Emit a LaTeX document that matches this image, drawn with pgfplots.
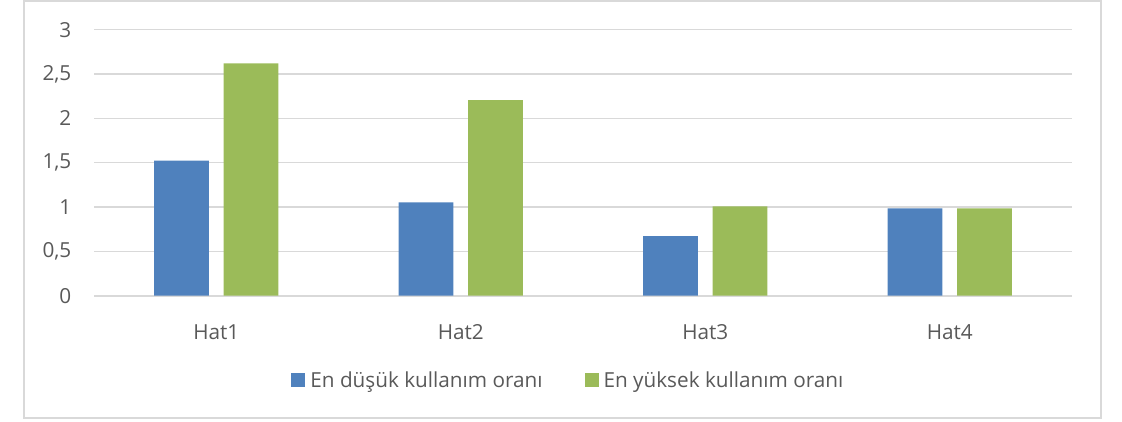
\documentclass[border=0pt]{standalone}
\usepackage{pgfplots}
\pgfplotsset{compat=1.18}
\usepackage{fontspec}
\setmainfont{Open Sans}
\definecolor{cblue}{HTML}{4F81BD}
\definecolor{cgreen}{HTML}{9BBB59}
\definecolor{gridc}{HTML}{D9D9D9}
\definecolor{txt}{HTML}{595959}
\begin{document}
\begin{tikzpicture}[x=1bp,y=1bp]
\path[use as bounding box] (0,0) rectangle (1122,-421);
\draw[gridc, line width=1.5bp] (24,-1) rectangle (1101,-418);
\begin{axis}[
  at={(94bp,-295.7bp)}, anchor=south west,
  scale only axis, width=978bp, height=266bp,
  xmin=-0.5, xmax=3.5, ymin=0, ymax=3,
  ytick={0,0.5,1,1.5,2,2.5,3},
  xtick=data, xticklabels={Hat1,Hat2,Hat3,Hat4},
  axis line style={draw=none},
  tick style={draw=none},
  ymajorgrids, grid style={gridc, line width=1.3bp},
  extra y ticks={0}, extra y tick labels={}, extra y tick style={grid style={gridc, line width=1.8bp}},
  ybar=14.7bp, bar width=54.7bp,
  /pgf/number format/use comma,
  /pgf/number format/assume math mode=true,
  ticklabel style={font=\fontsize{20.8}{24}\selectfont, text=txt},
  yticklabel style={inner sep=0pt, anchor=east, xshift=-22.5bp},
  xticklabel style={inner sep=0pt, anchor=north, yshift=-24.3bp},
  legend style={at={(0.484,-0.317)}, anchor=center, draw=none, fill=none,
    legend columns=2, font=\fontsize{20.8}{24}\selectfont, text=txt,
    nodes={inner sep=0pt},
    /tikz/every even column/.append style={column sep=42bp},
    legend cell align=left, inner sep=0pt},
  legend image code/.code={\fill[#1] (0bp,-6.7bp) rectangle (14bp,6.7bp); \path (19bp,0);},
]
\addplot[fill=cblue, draw=none] coordinates {(0,1.523) (1,1.053) (2,0.673) (3,0.986)};
\addplot[fill=cgreen, draw=none] coordinates {(0,2.62) (1,2.207) (2,1.008) (3,0.986)};
\legend{En düşük kullanım oranı, En yüksek kullanım oranı}
\end{axis}
\end{tikzpicture}
\end{document}
